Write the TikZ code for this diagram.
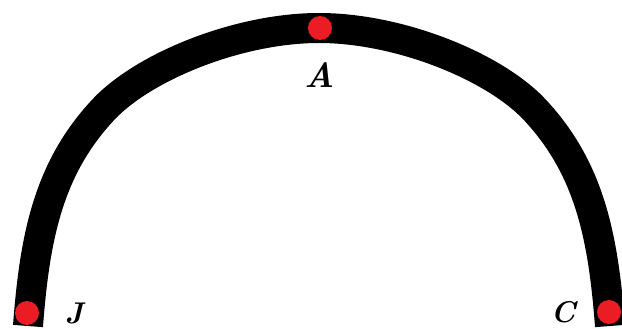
\documentclass[tikz,border=0pt]{standalone}
\definecolor{dotred}{RGB}{236,28,36}
\begin{document}
\begin{tikzpicture}[x=1pt,y=-1pt,
  dot/.style={circle,fill=dotred,draw=none,minimum size=24pt,inner sep=0pt},
  lbl/.style={font=\fontsize{30}{30}\selectfont\bfseries\itshape,inner sep=0pt,anchor=base}]
\useasboundingbox (0,0) rectangle (622,329);
\coordinate (e1) at (28,326);
\coordinate (m1) at (103,110);
\coordinate (top) at (319,28);
\coordinate (m2) at (535,110);
\coordinate (e2) at (610,326);
\draw[line width=30pt,line cap=butt]
  (e1) .. controls (34.8,236) and (48.6,168.4) .. (m1)
       .. controls (143.8,66.2) and (239,28) .. (top)
       .. controls (399,28) and (494.2,66.2) .. (m2)
       .. controls (589.4,168.4) and (603.2,236) .. (e2);
\node[dot] (pJ) at (27,313) {};
\node[dot] (pA) at (320,28) {};
\node[dot] (pC) at (609,312) {};
\node[lbl] (lJ) at (74,323) {J};
\node[lbl,font=\fontsize{35}{35}\selectfont\bfseries\itshape] (lA) at (320,88) {A};
\node[lbl] (lC) at (563,322) {C};
\end{tikzpicture}
\end{document}
